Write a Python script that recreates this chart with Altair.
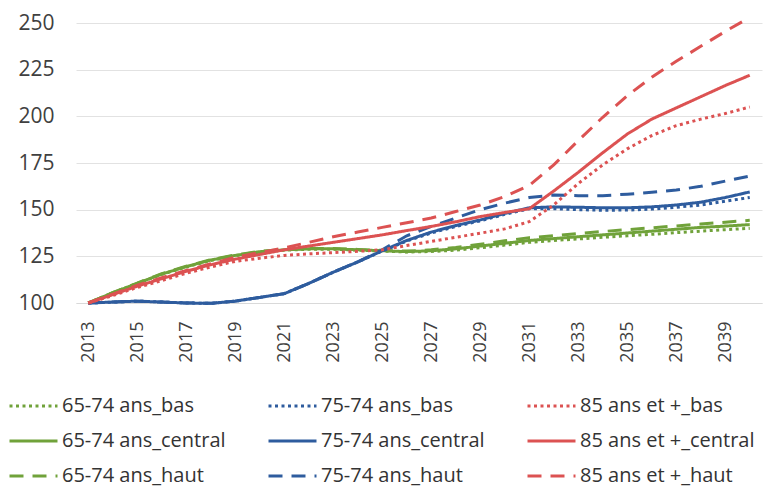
import altair as alt
import pandas as pd

years = list(range(2013, 2041))

g_bas = [100, 105.5, 110.5, 115.3, 119.3, 122.8, 125.3, 127.3, 128.3, 128.8, 128.8, 128.3, 127.8,
         127.3, 127.6, 128.3, 129.6, 131.0, 132.5, 133.5, 134.3, 135.2, 136.0, 136.8, 137.7, 138.5, 139.3, 140.0]
g_central = [100, 105.5, 110.5, 115.5, 119.5, 123.0, 125.5, 127.5, 128.5, 129.0, 129.0, 128.5, 128.0,
             127.5, 128.0, 129.0, 130.5, 132.0, 133.5, 134.5, 135.5, 136.5, 137.5, 138.5, 139.5, 140.5, 141.2, 142.0]
g_haut = [100, 105.6, 110.7, 115.7, 119.7, 123.2, 125.7, 127.7, 128.7, 129.2, 129.2, 128.7, 128.2,
          127.8, 128.5, 129.8, 131.5, 133.3, 135.0, 136.0, 137.2, 138.3, 139.3, 140.3, 141.3, 142.3, 143.3, 144.3]

b_bas = [100, 100.5, 101.0, 100.5, 100.0, 99.8, 101.0, 103.0, 105.0, 110.5, 116.5, 122.0, 127.8,
         133.2, 137.5, 141.0, 144.0, 147.5, 150.5, 150.5, 150.0, 149.7, 149.8, 150.3, 151.3, 152.5, 154.5, 156.5]
b_central = [100, 100.5, 101.0, 100.5, 100.0, 99.8, 101.0, 103.0, 105.0, 110.5, 116.5, 122.0, 128.0,
             133.5, 138.0, 141.5, 144.5, 148.0, 151.0, 151.5, 151.3, 151.0, 151.0, 151.5, 152.5, 154.0, 156.5, 159.5]
b_haut = [100, 100.5, 101.0, 100.5, 100.0, 99.8, 101.0, 103.0, 105.0, 110.5, 116.5, 122.0, 128.5,
          136.0, 141.0, 145.5, 150.0, 153.5, 156.5, 157.8, 157.5, 157.5, 158.3, 159.3, 160.5, 162.5, 165.3, 168.0]

r_bas = [100, 104.0, 108.3, 112.0, 116.0, 119.3, 122.3, 124.0, 125.5, 126.3, 127.0, 127.7, 128.5,
         130.8, 133.0, 135.2, 137.4, 139.7, 143.6, 152.5, 164.0, 174.0, 182.6, 189.7, 195.0, 198.5, 201.5, 205.0]
r_central = [100, 104.5, 109.0, 113.0, 117.0, 120.5, 123.5, 126.0, 128.5, 130.5, 132.5, 134.5, 136.5,
             138.8, 141.0, 143.5, 146.3, 148.5, 150.5, 160.0, 170.0, 180.5, 190.5, 198.5, 204.5, 210.5, 216.5, 222.0]
r_haut = [100, 104.8, 109.5, 113.5, 117.5, 121.0, 124.5, 127.0, 129.5, 132.5, 135.5, 138.0, 140.5,
          143.0, 145.5, 149.0, 152.5, 157.0, 163.0, 174.0, 187.0, 199.5, 211.0, 221.0, 229.5, 237.5, 245.5, 253.0]

# legend order: the legend fills column by column
series_names = [
    "65-74 ans_bas", "65-74 ans_central", "65-74 ans_haut",
    "75-74 ans_bas", "75-74 ans_central", "75-74 ans_haut",
    "85 ans et +_bas", "85 ans et +_central", "85 ans et +_haut",
]
series_values = [g_bas, g_central, g_haut, b_bas, b_central, b_haut, r_bas, r_central, r_haut]

green, blue, red = "#70a23a", "#2e5c9e", "#dc5252"
colors = [green] * 3 + [blue] * 3 + [red] * 3
dot, solid, dash = [3, 3.5], [1, 0], [14, 9]
dashes = [dot, solid, dash] * 3

y_ticks = [100, 125, 150, 175, 200, 225, 250]
x_ticks = list(range(2013, 2041, 2))

rows = []
for name, vals in zip(series_names, series_values):
    for yr, v in zip(years, vals):
        rows.append({"year": yr, "value": v, "series": name})
df = pd.DataFrame(rows)

legend = alt.Legend(
    title=None, orient="none", legendX=-68, legendY=372, columns=3,
    symbolType="stroke", symbolSize=2304, symbolStrokeWidth=3,
    labelFont="Open Sans", labelFontSize=20, labelColor="#333333", labelLimit=400,
    labelOffset=3, columnPadding=41, rowPadding=13, clipHeight=22, padding=0,
)

chart = alt.Chart(df).mark_line(strokeWidth=3).encode(
    x=alt.X("year:Q",
            scale=alt.Scale(domain=[2012.5, 2040.5], nice=False, zero=False),
            axis=alt.Axis(values=x_ticks, format="d", labelAngle=-90, title=None, grid=False,
                          ticks=False, domain=True, domainColor="#d9d9d9",
                          labelFont="Open Sans", labelFontSize=18, labelColor="#404040",
                          labelPadding=18)),
    y=alt.Y("value:Q",
            scale=alt.Scale(domain=[100, 250], nice=False, zero=False),
            axis=alt.Axis(values=y_ticks, title=None, ticks=False, domain=False,
                          gridColor="#e2e2e2", labelFont="Open Sans", labelFontSize=21,
                          labelColor="#404040", labelPadding=22)),
    color=alt.Color("series:N", sort=series_names,
                    scale=alt.Scale(domain=series_names, range=colors), legend=legend),
    strokeDash=alt.StrokeDash("series:N", sort=series_names,
                              scale=alt.Scale(domain=series_names, range=dashes), legend=legend),
).properties(
    width=686, height=280,
    padding={"left": 68, "top": 15, "right": 8, "bottom": 185},
    autosize=alt.AutoSizeParams(type="none"),
).configure_view(stroke=None)

chart.save("out.html", embed_options={"renderer": "svg", "actions": False})
